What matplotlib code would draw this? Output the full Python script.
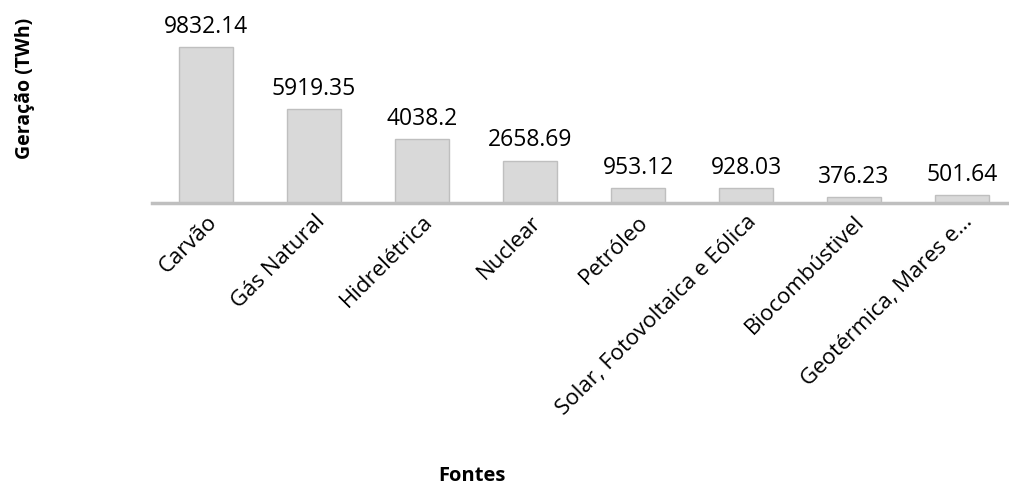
import matplotlib
matplotlib.use("Agg")
import matplotlib.pyplot as plt

# Geração de eletricidade por fonte (TWh)
fontes = ["Carvão", "Gás Natural", "Hidrelétrica", "Nuclear", "Petróleo",
          "Solar, Fotovoltaica e Eólica", "Biocombústivel", "Geotérmica, Mares e…"]
geracao = [9832.14, 5919.35, 4038.2, 2658.69, 953.12, 928.03, 376.23, 501.64]
rotulos = ["9832.14", "5919.35", "4038.2", "2658.69", "953.12", "928.03", "376.23", "501.64"]

plt.rcParams["font.family"] = ["Open Sans", "DejaVu Sans"]

W, H = 1009, 488
fig = plt.figure(figsize=(W / 100, H / 100), dpi=100)

# plot area in pixel terms: left 152, category step 108, baseline at y=203
left_px, step_px, base_px = 152, 108, 203
ymax = 12000
scale = (base_px - 47) / geracao[0]
top_px = base_px - ymax * scale
ax = fig.add_axes([left_px / W, 1 - base_px / H,
                   step_px * len(fontes) / W, (base_px - top_px) / H])

x = range(len(fontes))
bars = ax.bar(x, geracao, width=0.5, color="#D9D9D9", edgecolor="#BFBFBF",
              linewidth=1.0, zorder=2)
ax.set_xlim(-0.5, len(fontes) - 0.5)
ax.set_ylim(0, ymax)

for xi, v, r in zip(x, geracao, rotulos):
    ax.annotate(r, (xi, v), xytext=(0, 6), textcoords="offset points",
                ha="center", va="bottom", fontsize=16.5, color="#000000")

for s in ["top", "right", "left"]:
    ax.spines[s].set_visible(False)
ax.spines["bottom"].set_color("#BFBFBF")
ax.spines["bottom"].set_linewidth(2.5)
ax.spines["bottom"].set_zorder(3)
ax.set_yticks([])
ax.set_xticks(list(x))
ax.set_xticklabels(fontes, rotation=45, ha="right", rotation_mode="anchor",
                   fontsize=16, color="#000000")
ax.tick_params(axis="x", length=0, pad=6)

fig.text(472 / W, 1 - 476 / H, "Fontes", ha="center", va="center",
         fontsize=14.5, fontweight="bold")
fig.text(25 / W, 1 - 88 / H, "Geração (TWh)", ha="center", va="center",
         rotation=90, fontsize=14, fontweight="bold")

fig.savefig("out.png", dpi=100, facecolor="white")
